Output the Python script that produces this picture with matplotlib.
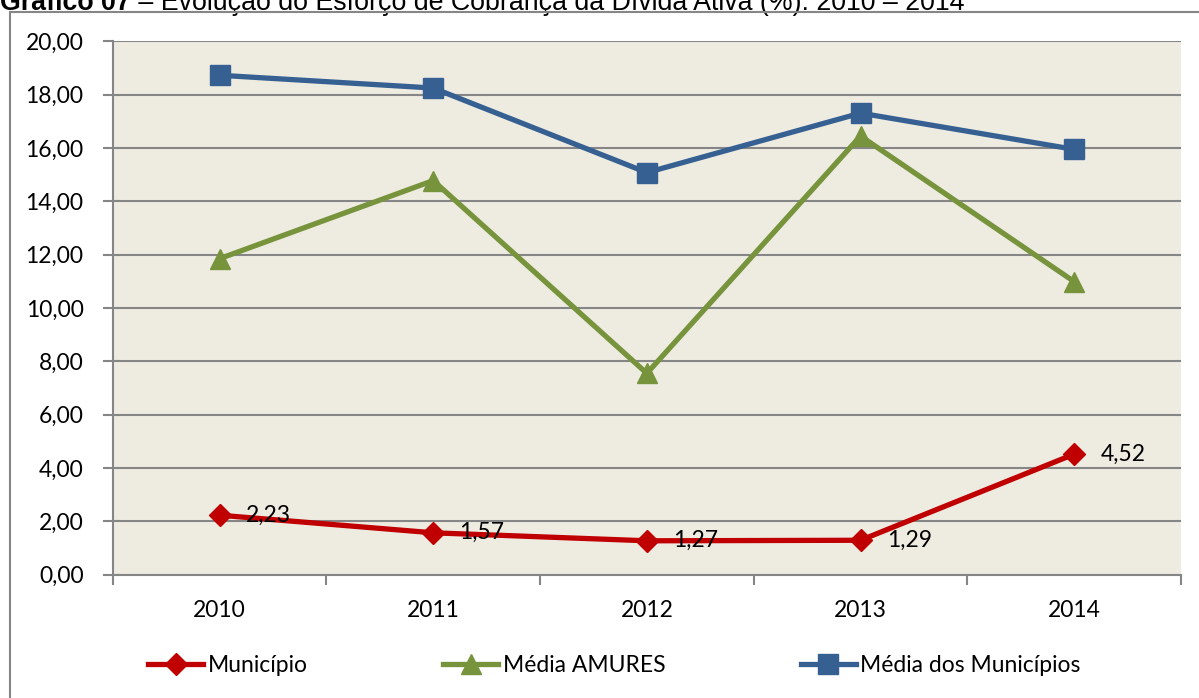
import matplotlib.pyplot as plt
from matplotlib.patches import Rectangle

# dados
anos = ['2010', '2011', '2012', '2013', '2014']
municipio = [2.23, 1.57, 1.27, 1.29, 4.52]
media_amures = [11.85, 14.78, 7.55, 16.45, 10.99]
media_municipios = [18.73, 18.25, 15.08, 17.31, 15.95]
rotulos = ['2,23', '1,57', '1,27', '1,29', '4,52']
yticks = [0, 2, 4, 6, 8, 10, 12, 14, 16, 18, 20]

plt.rcParams['font.family'] = ['Lato', 'DejaVu Sans']
cinza = '#868686'

fig = plt.figure(figsize=(11.99, 6.98), dpi=100)
ax = fig.add_axes([0.094, 0.1767, 0.891, 0.764])
ax.set_facecolor('#EEECE1')

x = range(len(anos))
ax.plot(x, municipio, color='#C00000', lw=3.8, marker='D', ms=11, label='Município', zorder=3)
ax.plot(x, media_amures, color='#77933C', lw=3.8, marker='^', ms=15, label='Média AMURES', zorder=3)
ax.plot(x, media_municipios, color='#376092', lw=3.8, marker='s', ms=14, label='Média dos Municípios', zorder=3)

for i, (v, r) in enumerate(zip(municipio, rotulos)):
    ax.annotate(r, (i, v), xytext=(19, 0), textcoords='offset points',
                va='center', ha='left', fontsize=16.5, zorder=4)

ax.set_xlim(-0.5, len(anos) - 0.5)
ax.set_ylim(0, 20)
ax.set_yticks(yticks)
ax.set_yticklabels([f'{t:.2f}'.replace('.', ',') for t in yticks], fontsize=16.5)
ax.yaxis.grid(True, color=cinza, lw=1.5)
ax.set_axisbelow(True)

ax.set_xticks(list(x))
ax.set_xticklabels(anos, fontsize=16.5)
ax.tick_params(axis='x', length=0, pad=18)
ax.set_xticks([i - 0.5 for i in range(len(anos) + 1)], minor=True)
ax.tick_params(axis='x', which='minor', length=7, width=1.5, color=cinza)
ax.tick_params(axis='y', length=7, width=1.5, color=cinza, pad=14)

for s in ['top', 'right']:
    ax.spines[s].set_visible(False)
for s in ['left', 'bottom']:
    ax.spines[s].set_color(cinza)
    ax.spines[s].set_linewidth(1.5)

fig.legend(loc='center', bbox_to_anchor=(0.5125, 0.046), ncol=3, frameon=False,
           fontsize=16.5, handlelength=2.4, handletextpad=0.2, columnspacing=5.9)

# moldura externa
fig.patches.append(Rectangle((10 / 1199, -0.1), 1.2, 1 - 12 / 698 + 0.1,
                             transform=fig.transFigure, fill=False, ec=cinza, lw=1.5))

# titulo (cortado no topo)
t1 = fig.text(0.0, 1 - 9.5 / 698, 'Gráfico 07', fontsize=19.3, family='Liberation Sans',
              weight='bold', va='baseline', ha='left')
ax.annotate(' – Evolução do Esforço de Cobrança da Dívida Ativa (%): 2010 – 2014',
            xy=(1, 0), xycoords=t1, va='bottom', ha='left', fontsize=19.3,
            family='Liberation Sans', annotation_clip=False)

fig.savefig('out.png', dpi=100)
